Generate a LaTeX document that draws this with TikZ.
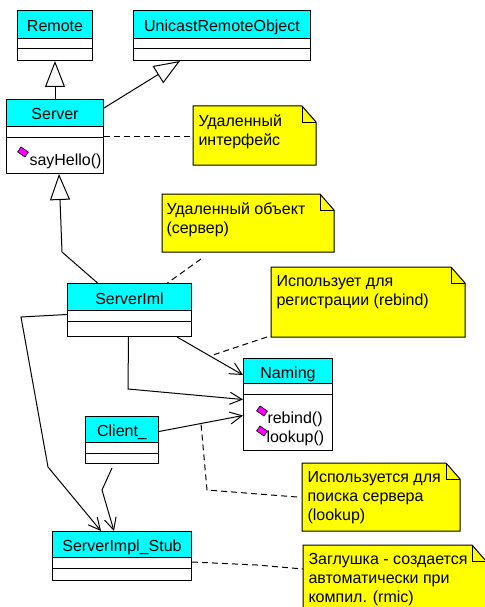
\documentclass[tikz,border=0pt]{standalone}
\usepackage{fontspec}
\setmainfont{Liberation Sans}
\usetikzlibrary{arrows.meta}

\definecolor{classcyan}{RGB}{0,255,255}
\definecolor{noteyellow}{RGB}{255,255,0}
\definecolor{opmagenta}{RGB}{255,0,255}

\tikzset{
  classbox/.style={draw,fill=white,anchor=north west,inner sep=0pt},
  classhead/.style={draw,fill=classcyan,anchor=north west,inner sep=0pt,text height=14pt,text depth=0pt},
  optext/.style={anchor=base west,inner sep=0pt},
  opicon/.style={draw,fill=opmagenta,rotate=-35,minimum width=9pt,minimum height=6pt,inner sep=0pt,line width=0.6pt},
  notebox/.style={anchor=north west,inner sep=0pt},
  notetext/.style={anchor=north west,align=left,inner xsep=5pt,inner ysep=0pt},
  inherit/.style={-{Triangle[open,length=26pt,width=20pt]}},
  assoc/.style={-{Straight Barb[length=12pt,width=12pt]}},
  noteline/.style={dash pattern=on 6pt off 4pt}
}

\begin{document}
\begin{tikzpicture}[x=1pt,y=-1pt,line width=1pt,font=\fontsize{16}{19}\selectfont]
	\useasboundingbox (0,0) rectangle (484,607);
	% classes
	\node[classbox,minimum width=75pt,minimum height=50pt] (remote) at (17,10) {};
	\node[classhead,minimum width=75pt,minimum height=28pt] (remote-head) at (remote.north west) {Remote};
	\node[classbox,minimum width=177pt,minimum height=50pt] (unicast) at (133,10) {};
	\node[classhead,minimum width=177pt,minimum height=28pt] (unicast-head) at (unicast.north west) {UnicastRemoteObject};
	\node[classbox,minimum width=97pt,minimum height=74pt] (server) at (6,99) {};
	\node[classhead,minimum width=97pt,minimum height=27pt] (server-head) at (server.north west) {Server};
	\node[classbox,minimum width=124pt,minimum height=53pt] (serveriml) at (67,283) {};
	\node[classhead,minimum width=124pt,minimum height=27pt] (serveriml-head) at (serveriml.north west) {ServerIml};
	\node[classbox,minimum width=89pt,minimum height=92pt] (naming) at (243,358) {};
	\node[classhead,minimum width=89pt,minimum height=25pt] (naming-head) at (naming.north west) {Naming};
	\node[classbox,minimum width=73pt,minimum height=47pt] (client) at (85,416) {};
	\node[classhead,minimum width=73pt,minimum height=26pt] (client-head) at (client.north west) {Client\_};
	\node[classbox,minimum width=139pt,minimum height=49pt] (stub) at (52,531) {};
	\node[classhead,minimum width=139pt,minimum height=26pt] (stub-head) at (stub.north west) {ServerImpl\_Stub};
	\foreach \c in {remote,unicast,server,serveriml,naming,client,stub}
		\draw ([yshift=-10pt]\c-head.south west) -- ([yshift=-10pt]\c-head.south east);
	% operations
	\node[optext] (sayhello) at (29,165) {sayHello()};
	\node[opicon] at (23,152) {};
	\node[optext] (rebind) at (267,423) {rebind()};
	\node[opicon] at (262,411) {};
	\node[optext] (lookup) at (266,442) {lookup()};
	\node[opicon] at (262,431) {};
	% notes
	\node[notebox,minimum width=122pt,minimum height=58pt] (n1) at (193,106) {};
	\node[notebox,minimum width=171pt,minimum height=57pt] (n2) at (162,194) {};
	\node[notebox,minimum width=193pt,minimum height=69pt] (n3) at (271,267) {};
	\node[notebox,minimum width=157pt,minimum height=67pt] (n4) at (302,463) {};
	\node[notebox,minimum width=182pt,minimum height=80pt] (n5) at (303,545) {};
	\foreach \n in {n1,n2,n3,n4,n5}{
		\filldraw[fill=noteyellow] (\n.north west) -- ([xshift=-14pt]\n.north east) -- ([yshift=-16pt]\n.north east)
			-- (\n.south east) -- (\n.south west) -- cycle;
		\draw ([xshift=-14pt]\n.north east) |- ([yshift=-16pt]\n.north east);
	}
	\node[notetext] (n1-text) at ([yshift=-8pt]n1.north west) {Удаленный\\интерфейс};
	\node[notetext,inner xsep=4pt] (n2-text) at ([yshift=-8pt]n2.north west) {Удаленный объект\\(сервер)};
	\node[notetext] (n3-text) at ([yshift=-8pt]n3.north west) {Использует для\\регистрации (rebind)};
	\node[notetext] (n4-text) at ([yshift=-8pt]n4.north west) {Используется для\\поиска сервера\\(lookup)};
	\node[notetext] (n5-text) at ([yshift=-8pt]n5.north west) {Заглушка - создается\\автоматически при\\компил. (rmic)};
	% connectors
	\draw[inherit] (server-head.north) -- (remote.south);
	\draw[inherit] ([yshift=5pt]server-head.east) -- ([xshift=47pt]unicast.south west);
	\draw[inherit] ([xshift=-32pt]serveriml-head.north) -- (62,252) -- ([xshift=4pt]server.south);
	\draw[assoc] ([xshift=-15pt]serveriml.south east) -- coordinate (reg) ([yshift=-4pt]naming-head.west);
	\draw[assoc] ([xshift=-1pt]serveriml.south) -- (128,389) -- ([yshift=5pt]naming.west);
	\draw[assoc] ([yshift=-4.5pt]serveriml.west) -- (21,317) -- (48,467) -- ([xshift=-21pt]stub.north);
	\draw[assoc] ([yshift=-2pt]client-head.east) -- coordinate (look) ([yshift=-11pt]naming.west);
	\draw[assoc] ([xshift=-10pt,yshift=-4pt]client.south) -- (102,490) -- ([xshift=-8pt]stub.north);
	% note links
	\draw[noteline] (server.east) -- (server.east -| n1.west);
	\draw[noteline] ([xshift=-47pt,yshift=-7pt]n2.south) -- ([xshift=38pt]serveriml.north);
	\draw[noteline] ([xshift=-4pt]n3.south west) -- (reg);
	\draw[noteline] ([xshift=-5pt]n4.west) -- (207,490) -- (look);
	\draw[noteline] ([yshift=-6pt]stub.east) -- (257,565) -- ([yshift=-24pt]n5.north west);
\end{tikzpicture}
\end{document}
